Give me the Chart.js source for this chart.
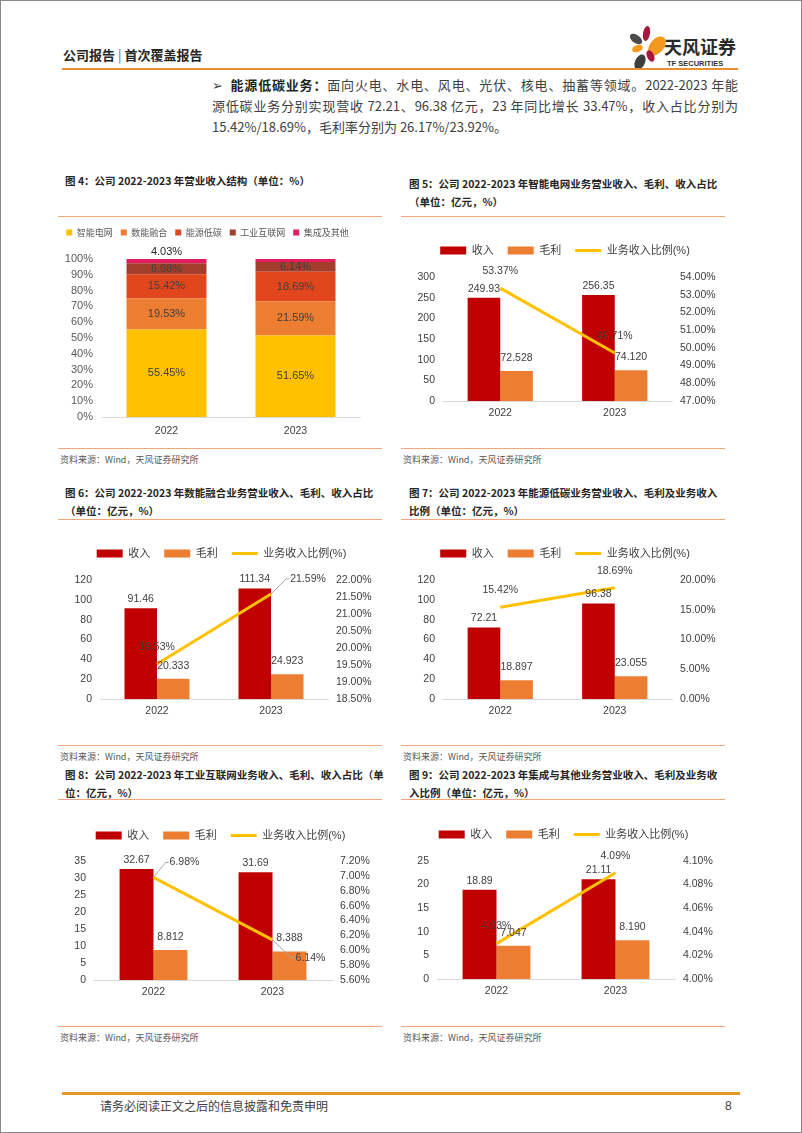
<!DOCTYPE html>
<html lang="zh-CN">
<head>
<meta charset="utf-8">
<title>公司报告｜首次覆盖报告</title>
<script src="https://cdn.jsdelivr.net/npm/chart.js@4.4.1/dist/chart.umd.min.js"></script>
<style>
	html, body { margin: 0; padding: 0; background: #fff; }
	body { width: 802px; height: 1133px; position: relative; overflow: hidden; font-family: "Liberation Sans", "Noto Sans CJK SC", sans-serif; color: #404040; }
	.frame { position: absolute; left: 0; top: 0; width: 802px; height: 1133px; border: 1px solid #8a8a8a; box-sizing: border-box; }
	.abs { position: absolute; white-space: nowrap; }
	.header { left: 63px; top: 46px; font-family: "Noto Sans CJK SC", sans-serif; font-weight: 700; font-size: 13px; line-height: 18px; color: #262626; }
	.header .sep { font-weight: 400; color: #666; margin: 0 3px; }
	.petal { position: absolute; border-radius: 50%; }
	.line-body { position: absolute; left: 212px; width: 526px; font-family: "Noto Sans CJK SC", sans-serif; font-size: 13px; line-height: 20px; color: #404040; white-space: nowrap; }
	.justify { text-align: justify; text-align-last: justify; }
	.line-body b { color: #1f1f1f; }
	.title { position: absolute; font-family: "Noto Sans CJK SC", sans-serif; font-weight: 700; font-size: 10.5px; line-height: 18px; color: #262626; white-space: nowrap; }
	.rule { position: absolute; height: 1px; width: 324px; background: #f2a679; }
	.source { position: absolute; font-family: "Noto Sans CJK SC", sans-serif; font-size: 9px; line-height: 12px; color: #595959; white-space: nowrap; }
	.chart-box { position: absolute; }
</style>
</head>
<body>
<div class="frame"></div>

<div class="abs header">公司报告<span class="sep">|</span>首次覆盖报告</div>
<div class="petal" style="left:629px;top:35px;width:14px;height:8px;background:#4a4a4a;transform:rotate(35deg)"></div>
<div class="petal" style="left:643px;top:26px;width:7px;height:15px;background:#a8173b;transform:rotate(10deg)"></div>
<div class="petal" style="left:650px;top:35px;width:14px;height:22px;background:#f39a1e;transform:rotate(40deg)"></div>
<div class="petal" style="left:632px;top:45px;width:11px;height:7px;background:#f39a1e;transform:rotate(-20deg)"></div>
<div class="petal" style="left:647px;top:50px;width:7px;height:12px;background:#a8173b;transform:rotate(-25deg)"></div>
<div class="petal" style="left:635px;top:54px;width:10px;height:16px;background:#3d3d3d;transform:rotate(25deg)"></div>
<div class="abs" style="left:664px;top:35px;font-family:'Noto Sans CJK SC',sans-serif;font-weight:700;font-size:18px;line-height:22px;color:#2b2b2b">天风证券</div>
<div class="abs" style="left:667px;top:59px;font-family:'Liberation Sans',sans-serif;font-weight:700;font-size:7.5px;line-height:9px;color:#333">TF SECURITIES</div>
<div class="abs" style="left:62px;top:68px;width:676px;height:2px;background:#ea8f2f"></div>

<div class="line-body justify" style="top:75px">➢&nbsp;&nbsp;<b>能源低碳业务：</b>面向火电、水电、风电、光伏、核电、抽蓄等领域。2022-2023 年能</div>
<div class="line-body justify" style="top:96px">源低碳业务分别实现营收 72.21、96.38 亿元，23 年同比增长 33.47%，收入占比分别为</div>
<div class="line-body" style="top:117px">15.42%/18.69%，毛利率分别为 26.17%/23.92%。</div>

<div class="title" style="left:65px;top:172px">图 4：公司 2022-2023 年营业收入结构（单位：%）</div>
<div class="rule" style="left:58px;top:216px"></div>
<div class="chart-box" style="left:55px;top:220px;width:320px;height:224px"><canvas id="chart-structure"></canvas></div>
<div class="rule" style="left:58px;top:448px"></div>
<div class="source" style="left:60px;top:454px">资料来源：Wind，天风证券研究所</div>

<div class="title" style="left:409px;top:175px">图 5：公司 2022-2023 年智能电网业务营业收入、毛利、收入占比<br>（单位：亿元，%）</div>
<div class="rule" style="left:401px;top:216px"></div>
<div class="chart-box" style="left:398px;top:231px;width:334px;height:194px"><canvas id="chart-grid"></canvas></div>
<div class="rule" style="left:401px;top:448px"></div>
<div class="source" style="left:403px;top:454px">资料来源：Wind，天风证券研究所</div>

<div class="title" style="left:65px;top:484px">图 6：公司 2022-2023 年数能融合业务营业收入、毛利、收入占比<br>（单位：亿元，%）</div>
<div class="rule" style="left:58px;top:519px"></div>
<div class="chart-box" style="left:55px;top:534px;width:333px;height:189px"><canvas id="chart-digital"></canvas></div>
<div class="rule" style="left:58px;top:745px"></div>
<div class="source" style="left:60px;top:751px">资料来源：Wind，天风证券研究所</div>

<div class="title" style="left:409px;top:484px">图 7：公司 2022-2023 年能源低碳业务营业收入、毛利及业务收入<br>比例（单位：亿元，%）</div>
<div class="rule" style="left:401px;top:519px"></div>
<div class="chart-box" style="left:398px;top:534px;width:334px;height:189px"><canvas id="chart-carbon"></canvas></div>
<div class="rule" style="left:401px;top:745px"></div>
<div class="source" style="left:403px;top:751px">资料来源：Wind，天风证券研究所</div>

<div class="title" style="left:65px;top:766px">图 8：公司 2022-2023 年工业互联网业务收入、毛利、收入占比（单<br>位：亿元，%）</div>
<div class="rule" style="left:58px;top:799px"></div>
<div class="chart-box" style="left:49px;top:816px;width:343px;height:188px"><canvas id="chart-industrial"></canvas></div>
<div class="rule" style="left:58px;top:1026px"></div>
<div class="source" style="left:60px;top:1032px">资料来源：Wind，天风证券研究所</div>

<div class="title" style="left:409px;top:766px">图 9：公司 2022-2023 年集成与其他业务营业收入、毛利及业务收<br>入比例（单位：亿元，%）</div>
<div class="rule" style="left:401px;top:799px"></div>
<div class="chart-box" style="left:392px;top:815px;width:343px;height:188px"><canvas id="chart-other"></canvas></div>
<div class="rule" style="left:401px;top:1026px"></div>
<div class="source" style="left:403px;top:1032px">资料来源：Wind，天风证券研究所</div>

<div class="abs" style="left:62px;top:1092px;width:678px;height:3px;background:#e39a22"></div>
<div class="abs" style="left:100px;top:1098px;font-family:'Noto Sans CJK SC',sans-serif;font-size:12px;line-height:16px;color:#404040">请务必阅读正文之后的信息披露和免责申明</div>
<div class="abs" style="left:725px;top:1098px;font-size:12px;line-height:16px;color:#404040">8</div>

<script>
const years = ["2022", "2023"];

// 图4 营业收入结构（%）
const structSeries = ["智能电网", "数能融合", "能源低碳", "工业互联网", "集成及其他"];
const structSmartGrid = [55.45, 51.65];
const structDigital = [19.53, 21.59];
const structLowCarbon = [15.42, 18.69];
const structIndustrial = [6.98, 6.14];
const structOther = [4.03, 4.09];
const structTicks = [0, 10, 20, 30, 40, 50, 60, 70, 80, 90, 100];

// 图5 智能电网
const gridRevenue = [249.93, 256.35];
const gridProfit = [72.528, 74.12];
const gridShare = [53.37, 49.71];
const gridLeftTicks = [0, 50, 100, 150, 200, 250, 300];
const gridRightTicks = [47, 48, 49, 50, 51, 52, 53, 54];

// 图6 数能融合
const digitalRevenue = [91.46, 111.34];
const digitalProfit = [20.333, 24.923];
const digitalShare = [19.53, 21.59];
const digitalLeftTicks = [0, 20, 40, 60, 80, 100, 120];
const digitalRightTicks = [18.5, 19, 19.5, 20, 20.5, 21, 21.5, 22];

// 图7 能源低碳
const carbonRevenue = [72.21, 96.38];
const carbonProfit = [18.897, 23.055];
const carbonShare = [15.42, 18.69];
const carbonLeftTicks = [0, 20, 40, 60, 80, 100, 120];
const carbonRightTicks = [0, 5, 10, 15, 20];

// 图8 工业互联网
const industrialRevenue = [32.67, 31.69];
const industrialProfit = [8.812, 8.388];
const industrialShare = [6.98, 6.14];
const industrialLeftTicks = [0, 5, 10, 15, 20, 25, 30, 35];
const industrialRightTicks = [5.6, 5.8, 6.0, 6.2, 6.4, 6.6, 6.8, 7.0, 7.2];

// 图9 集成及其他
const otherRevenue = [18.89, 21.11];
const otherProfit = [7.047, 8.19];
const otherShare = [4.03, 4.09];
const otherLeftTicks = [0, 5, 10, 15, 20, 25];
const otherRightTicks = [4.0, 4.02, 4.04, 4.06, 4.08, 4.1];

const FONT = '"Liberation Sans", "Noto Sans CJK SC", sans-serif';
const CJK_FONT = '"Noto Sans CJK SC", sans-serif';

Chart.defaults.font.family = FONT;
Chart.defaults.font.size = 10.5;
Chart.defaults.color = "#404040";
Chart.defaults.animation = false;
Chart.defaults.events = [];
Chart.defaults.plugins.tooltip.enabled = false;

// leaves room between the legend and the plot
const legendGap = {
	id: "legendGap",
	beforeLayout(chart) {
		const legend = chart.legend;
		if (!legend || legend._gapPatched) return;
		const fit = legend.fit.bind(legend);
		legend.fit = () => {
			fit();
			legend.height += chart.options.plugins.legendGap.gap || 0;
		};
		legend._gapPatched = true;
	}
};

const valueLabels = {
	id: "valueLabels",
	afterDatasetsDraw(chart) {
		const { ctx, chartArea } = chart;
		chart.data.datasets.forEach((dataset, datasetIndex) => {
			const spec = dataset.valueLabel;
			const meta = chart.getDatasetMeta(datasetIndex);
			if (!spec || meta.hidden) return;
			ctx.save();
			ctx.font = spec.font || `10.5px ${FONT}`;
			ctx.fillStyle = spec.color || "#404040";
			ctx.textAlign = "center";
			ctx.textBaseline = "middle";
			meta.data.forEach((element, index) => {
				if (spec.skip && spec.skip.includes(index)) return;
				const text = spec.format(dataset.data[index]);
				let x = element.x;
				let y;
				if (spec.position === "center") {
					y = (Math.max(element.y, chartArea.top) + element.base) / 2;
				} else if (spec.position === "cap") {
					y = chartArea.top - spec.offset;
				} else {
					y = element.y - spec.offset;
				}
				const callout = spec.callouts && spec.callouts[index];
				if (callout) {
					x = element.x + callout[0];
					y = element.y + callout[1];
					const half = ctx.measureText(text).width / 2;
					ctx.strokeStyle = "#a6a6a6";
					ctx.lineWidth = 1;
					ctx.beginPath();
					ctx.moveTo(element.x, element.y);
					ctx.lineTo(x - half - 4, y);
					ctx.lineTo(x - half - 1, y);
					ctx.stroke();
				}
				ctx.fillText(text, x, y);
			});
			ctx.restore();
		});
	}
};

const useTicks = values => scale => {
	scale.ticks = values.map(value => ({ value }));
};

const renderStructureChart = () => {
	const ctx = document.getElementById("chart-structure");
	const seriesData = [structSmartGrid, structDigital, structLowCarbon, structIndustrial, structOther];
	const colors = ["#ffc000", "#ed7d31", "#e2461d", "#a33e2d", "#e31b5f"];

	const datasets = structSeries.map((label, i) => ({
		label,
		data: seriesData[i],
		backgroundColor: colors[i],
		pointStyle: "rect",
		valueLabel: i === structSeries.length - 1
			? { position: "cap", offset: 7, skip: [1], format: v => `${v.toFixed(2)}%`, font: `11px ${FONT}`, color: "#262626" }
			: { position: "center", format: v => `${v.toFixed(2)}%`, font: `11px ${FONT}`, color: "#404040" }
	}));

	new Chart(ctx, {
		type: "bar",
		data: { labels: years, datasets },
		options: {
			responsive: true,
			maintainAspectRatio: false,
			layout: { padding: { right: 15 } },
			datasets: { bar: { barPercentage: 0.62, categoryPercentage: 1 } },
			scales: {
				x: {
					stacked: true,
					grid: { display: false, drawTicks: false },
					border: { color: "#d9d9d9" },
					ticks: { padding: 8, color: "#404040", font: { size: 10.5 } },
					afterFit: scale => { scale.height = 27; }
				},
				y: {
					stacked: true,
					min: structTicks[0],
					max: structTicks[structTicks.length - 1],
					grid: { display: false, drawTicks: false },
					border: { display: false },
					afterBuildTicks: useTicks(structTicks),
					ticks: { autoSkip: false, padding: 9, color: "#595959", font: { size: 11 }, callback: v => `${v}%` },
					afterFit: scale => { scale.width = 47; }
				}
			},
			plugins: {
				legend: {
					labels: {
						usePointStyle: true,
						pointStyleWidth: 6,
						boxHeight: 6,
						padding: 8,
						color: "#595959",
						font: { size: 9, family: CJK_FONT }
					}
				},
				legendGap: { gap: 12 }
			}
		},
		plugins: [legendGap, valueLabels]
	});
};

const renderComboChart = (id, revenue, profit, share, leftTicks, rightTicks, gap, callouts) => {
	const ctx = document.getElementById(id);
	if (!ctx) return;

	new Chart(ctx, {
		type: "bar",
		data: {
			labels: years,
			datasets: [
				{
					label: "收入",
					data: revenue,
					backgroundColor: "#c00000",
					pointStyle: "rect",
					order: 1,
					yAxisID: "y",
					valueLabel: { offset: 9, format: v => v.toFixed(2) }
				},
				{
					label: "毛利",
					data: profit,
					backgroundColor: "#ed7d31",
					pointStyle: "rect",
					order: 1,
					yAxisID: "y",
					valueLabel: { offset: 13, format: v => v.toFixed(3) }
				},
				{
					type: "line",
					label: "业务收入比例(%)",
					data: share,
					borderColor: "#ffc000",
					backgroundColor: "#ffc000",
					borderWidth: 3,
					pointRadius: 0,
					pointStyle: "line",
					order: 0,
					yAxisID: "y1",
					valueLabel: { offset: 17, callouts, format: v => `${v.toFixed(2)}%` }
				}
			]
		},
		options: {
			responsive: true,
			maintainAspectRatio: false,
			datasets: { bar: { barPercentage: 1, categoryPercentage: 0.57 } },
			scales: {
				x: {
					grid: { display: false, drawTicks: false },
					border: { color: "#d9d9d9" },
					ticks: { padding: 6, color: "#404040" },
					afterFit: scale => { scale.height = 24; }
				},
				y: {
					position: "left",
					min: leftTicks[0],
					max: leftTicks[leftTicks.length - 1],
					grid: { display: false, drawTicks: false },
					border: { display: false },
					afterBuildTicks: useTicks(leftTicks),
					ticks: { autoSkip: false, padding: 8, color: "#404040", callback: v => `${v}` },
					afterFit: scale => { scale.width = 45; }
				},
				y1: {
					position: "right",
					min: rightTicks[0],
					max: rightTicks[rightTicks.length - 1],
					grid: { display: false, drawTicks: false },
					border: { display: false },
					afterBuildTicks: useTicks(rightTicks),
					ticks: { autoSkip: false, padding: 8, color: "#404040", callback: v => `${v.toFixed(2)}%` },
					afterFit: scale => { scale.width = 60; }
				}
			},
			plugins: {
				legend: {
					labels: {
						usePointStyle: true,
						pointStyleWidth: 26,
						boxHeight: 8,
						padding: 14,
						color: "#404040",
						font: { size: 11, family: FONT },
						sort: (a, b) => a.datasetIndex - b.datasetIndex
					}
				},
				legendGap: { gap }
			}
		},
		plugins: [legendGap, valueLabels]
	});
};

document.addEventListener("DOMContentLoaded", () => {
	renderStructureChart();
	renderComboChart("chart-grid", gridRevenue, gridProfit, gridShare, gridLeftTicks, gridRightTicks, 11, null);
	renderComboChart("chart-digital", digitalRevenue, digitalProfit, digitalShare, digitalLeftTicks, digitalRightTicks, 11, [null, [37, -15]]);
	renderComboChart("chart-carbon", carbonRevenue, carbonProfit, carbonShare, carbonLeftTicks, carbonRightTicks, 11, null);
	renderComboChart("chart-industrial", industrialRevenue, industrialProfit, industrialShare, industrialLeftTicks, industrialRightTicks, 10, [[31, -15], [38, 18]]);
	renderComboChart("chart-other", otherRevenue, otherProfit, otherShare, otherLeftTicks, otherRightTicks, 11, null);
});
</script>
</body>
</html>
